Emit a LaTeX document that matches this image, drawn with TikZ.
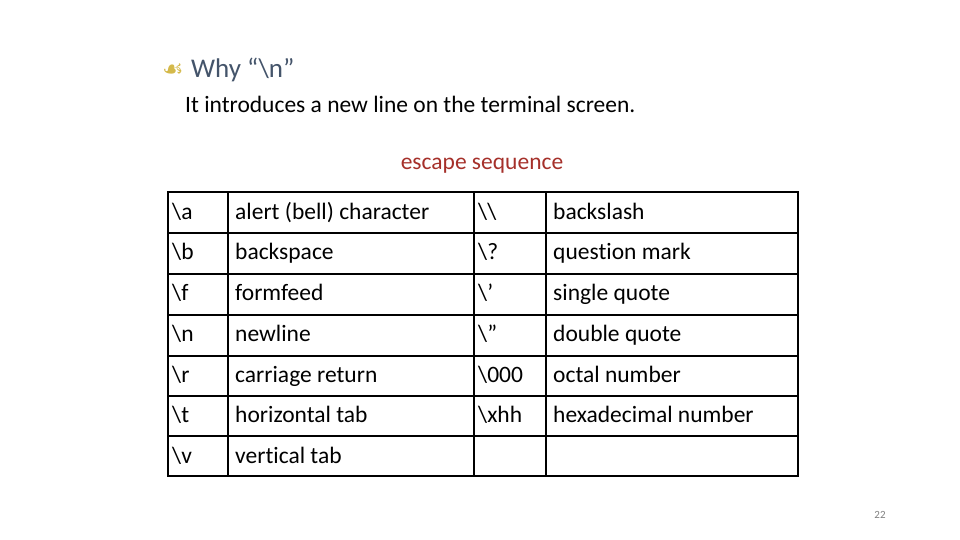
\documentclass[tikz,border=0pt]{standalone}
\usepackage{fontspec}
\setmainfont{Carlito}[Ligatures={NoCommon}]
\newfontfamily\symfont{DejaVu Sans}
\definecolor{titleblue}{HTML}{44546A}
\definecolor{bulletgold}{HTML}{D4B94A}
\definecolor{escred}{HTML}{A5302A}
\begin{document}
\begin{tikzpicture}[x=1pt,y=-1pt,
  cell/.style={anchor=base west,inner sep=0pt,font=\fontsize{23.5}{26}\selectfont},
  thickline/.style={line width=2pt},
  thinline/.style={line width=1.2pt}]
\useasboundingbox (0,0) rectangle (960,540);
\node[anchor=base west,inner sep=0pt,text=bulletgold] (bul) at (162,78) {\fontsize{24}{26}\symfont ☙};
\node[anchor=base west,inner sep=0pt,text=titleblue,font=\fontsize{27}{30}\selectfont] (why) at (191,78) {Why “\textbackslash n”};
\node[anchor=base west,inner sep=0pt,font=\fontsize{23.5}{26}\selectfont] (intro) at (185,113) {It introduces a new line on the terminal screen.};
\node[anchor=base,inner sep=0pt,text=escred,font=\fontsize{23.5}{26}\selectfont] (cap) at (482,170) {escape sequence};
% grid
\foreach \y in {233,274,315,356,396,436} \draw[thinline] (168,\y) -- (798,\y);
\foreach \x in {228,474,546} \draw[thinline] (\x,192) -- (\x,476);
\draw[thickline] (168,192) rectangle (798,476);
% cells
\def\ra{219}\def\rb{259}\def\rc{300}\def\rd{341}\def\re{382}\def\rf{422}\def\rg{463}
\node[cell] (a1) at (172,\ra) {\textbackslash a};
\node[cell] (a2) at (235,\ra) {alert (bell) character};
\node[cell] (a3) at (478,\ra) {\textbackslash\textbackslash};
\node[cell] (a4) at (553,\ra) {backslash};
\node[cell] (b1) at (172,\rb) {\textbackslash b};
\node[cell] (b2) at (235,\rb) {backspace};
\node[cell] (b3) at (478,\rb) {\textbackslash ?};
\node[cell] (b4) at (553,\rb) {question mark};
\node[cell] (c1) at (172,\rc) {\textbackslash f};
\node[cell] (c2) at (235,\rc) {formfeed};
\node[cell] (c3) at (478,\rc) {\textbackslash ’};
\node[cell] (c4) at (553,\rc) {single quote};
\node[cell] (d1) at (172,\rd) {\textbackslash n};
\node[cell] (d2) at (235,\rd) {newline};
\node[cell] (d3) at (478,\rd) {\textbackslash ”};
\node[cell] (d4) at (553,\rd) {double quote};
\node[cell] (e1) at (172,\re) {\textbackslash r};
\node[cell] (e2) at (235,\re) {carriage return};
\node[cell] (e3) at (478,\re) {\textbackslash 000};
\node[cell] (e4) at (553,\re) {octal number};
\node[cell] (f1) at (172,\rf) {\textbackslash t};
\node[cell] (f2) at (235,\rf) {horizontal tab};
\node[cell] (f3) at (478,\rf) {\textbackslash xhh};
\node[cell] (f4) at (553,\rf) {hexadecimal number};
\node[cell] (g1) at (172,\rg) {\textbackslash v};
\node[cell] (g2) at (235,\rg) {vertical tab};
\node[inner sep=0pt,text=gray,font=\fontsize{11}{13}\selectfont] (pg) at (880,515) {22};
\end{tikzpicture}
\end{document}
